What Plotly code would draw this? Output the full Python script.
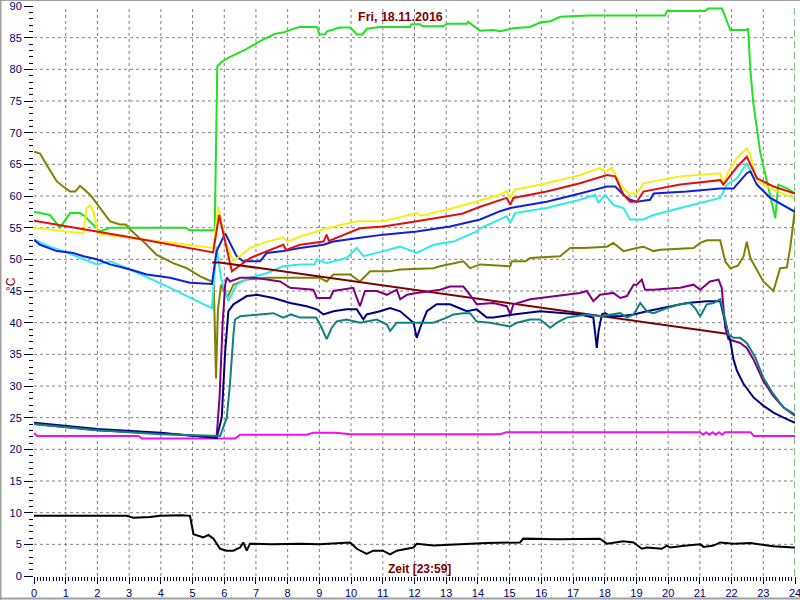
import plotly.graph_objects as go

# ---------------- data (hours, °C) ----------------
green_t = [0, 0.5, 0.82, 1.14, 1.45, 1.6, 2.08, 2.4, 4.8, 4.9, 5.7, 5.78, 5.93, 6.12, 6.66, 6.97, 7.19, 7.6, 7.92, 8.23, 8.39,
           8.93, 9.0, 9.18, 9.24, 9.65, 9.97, 10.19, 10.35, 10.5, 10.91, 11.86, 11.9, 12.18, 12.25, 12.9, 13.03, 13.66, 13.69,
           14.07, 14.48, 14.7, 15.11, 15.65, 15.96, 16.28, 16.6, 17.5, 18.5, 19.43, 19.9, 19.97, 21.17, 21.26, 21.7, 21.96,
           22.49, 22.52, 22.59, 22.68, 22.81, 22.9, 23.38, 23.47, 23.75, 24.0]
green_v = [57.5, 57, 55, 57.3, 57.3, 56.8, 54.4, 55, 55, 54.6, 54.6, 80.5, 81.2, 81.8, 83.1, 84, 84.6, 85.6, 85.9, 86.5, 86.7,
           86.7, 85.5, 85.5, 86.0, 86.6, 86.6, 85.5, 85.5, 86.4, 86.7, 86.7, 87.1, 87.1, 86.8, 86.8, 87.2, 87.2, 87.5,
           86.1, 86.2, 86.0, 86.5, 86.7, 87.4, 87.6, 88.3, 88.5, 88.5, 88.5, 88.5, 89.2, 89.2, 89.6, 89.6, 86.2,
           86.2, 86.5, 80.1, 74.9, 70.2, 67, 56.5, 61.8, 61.2, 60.4]

yellow_t = [0, 0.92, 1.56, 1.66, 1.77, 1.87, 1.98, 2.08, 3.03, 4.6, 5.65, 5.81, 6.03, 6.29, 6.81, 7.34, 7.86, 8.01, 8.39,
            9.13, 9.23, 10.18, 11.02, 12.07, 12.2, 13.23, 13.96, 14.7, 14.91, 15.02, 15.17, 16.17, 17.22, 17.85, 18.01,
            18.22, 18.49, 18.75, 19.01, 19.22, 20.38, 21.64, 21.74, 21.9, 22.17, 22.48, 22.59, 22.8, 23.22, 23.95, 24]
yellow_v = [55, 54.4, 54.1, 58.1, 58.5, 57.6, 54.9, 54, 53.4, 52.4, 51.8, 58.3, 52.8, 49.7, 51.8, 52.8, 53.4, 52.8, 53.6,
            54.7, 54.9, 56, 56, 57.3, 56.9, 58.1, 59.1, 60.2, 60.8, 59.7, 61, 62, 63.3, 64.4, 63.9,
            64.4, 61.8, 60.4, 60.4, 62, 63.1, 63.6, 61.8, 63.9, 66, 67.5, 66.5, 62.3, 61.2, 59.7, 59.6]

red_t = [0, 2.9, 5.65, 5.84, 6.24, 6.81, 7.86, 7.95, 8.39, 9.13, 9.23, 9.3, 10.28, 11.02, 12.07, 13.12, 13.5, 14.07,
         14.91, 15.02, 15.12, 16.17, 17.22, 18.07, 18.33, 18.59, 18.8, 19.01, 19.22, 20.38, 21.64, 21.74, 21.9, 22.17,
         22.48, 22.8, 23.32, 23.95, 24]
red_v = [56.1, 53.6, 51.1, 57.0, 48.1, 50.2, 52.3, 51.5, 52.3, 52.8, 53.9, 52.9, 54.9, 55.2, 56, 56.8, 57.2, 58.3,
         59.7, 58.6, 59.7, 60.7, 62, 63.3, 63.1, 60.2, 59.1, 59.1, 60.7, 61.8, 62.5, 61.8, 62.8, 64.6,
         66.2, 62.8, 61.5, 60.4, 60.4]

blue_t = [0, 0.19, 0.72, 1.24, 1.56, 1.98, 2.4, 3.03, 3.56, 4.29, 4.92, 5.61, 5.76, 6.03, 6.39, 6.6, 7.13, 7.34, 7.86,
          8.39, 9.13, 9.44, 10.28, 11.02, 12.07, 13.12, 14.07, 14.7, 15.02, 16.17, 17.22, 18.07, 18.33, 18.59, 18.8,
          19.01, 19.43, 19.54, 20.59, 21.64, 22.06, 22.48, 22.59, 22.8, 23.22, 23.95, 24]
blue_v = [53.1, 52.3, 51.3, 51, 50.5, 50, 49.2, 48.4, 47.6, 47.1, 46.3, 46.1, 51.3, 54.1, 50.5, 49.7, 49.7, 51, 51.3,
          51.8, 52.3, 52.8, 53.4, 53.9, 54.4, 55.2, 56.3, 57.6, 58.1, 59.1, 60.4, 61.5, 61.5, 60.2, 59.4,
          59.1, 59.4, 60.4, 60.7, 61.2, 61.2, 63.6, 63.9, 61.8, 59.7, 57.6, 57.5]

cyan_t = [0, 0.5, 0.92, 1.98, 2.4, 3.03, 4.08, 4.92, 5.61, 5.76, 5.9, 6.13, 6.39, 6.81, 7.34, 7.86, 8.39, 8.85, 8.92,
          9.23, 9.86, 10.18, 10.39, 11.02, 11.55, 12.07, 12.6, 13.23, 13.96, 14.07, 14.91, 15.02, 15.17, 16.17, 17.22,
          17.7, 17.8, 18.01, 18.27, 18.59, 18.8, 19.22, 19.54, 20.38, 21.64, 21.85, 22.17, 22.48, 22.8, 23.22, 23.95, 24]
cyan_v = [53.1, 52, 51.3, 49.2, 49.7, 48.4, 46, 43.9, 42.3, 52, 47, 43.4, 46, 47.1, 47.8, 48.9, 49.2, 49.2, 50,
          49.4, 50.2, 51.8, 50.5, 51.3, 52, 51, 52.3, 52.8, 54.4, 54.9, 56.8, 55.7, 57.3, 58.1, 59.4,
          60.2, 58.9, 60.2, 58.6, 58.1, 56.3, 56.3, 57, 58.1, 59.7, 61.8, 62.8, 65.2, 61.8, 59.7, 57.6, 57.5]

olive_t = [0, 0.19, 0.4, 0.72, 0.92, 1.14, 1.3, 1.45, 1.77, 2.08, 2.4, 2.71, 2.9, 3.03, 3.45, 3.87, 4.39, 4.82, 5.24,
           5.61, 5.67, 5.74, 5.8, 5.9, 6.1, 6.29, 6.71, 7.34, 8.39, 9.0, 9.23, 9.44, 9.97, 10.28, 10.6, 11.2, 11.55,
           12.6, 12.8, 13.54, 13.75, 14.07, 15.02, 15.07, 15.5, 15.65, 16.59, 16.91, 17.33, 18.07, 18.27, 18.59, 19.01,
           19.22, 19.54, 19.75, 20.8, 21.01, 21.22, 21.64, 21.8, 21.96, 22.2, 22.38, 22.48, 22.59, 23.0, 23.32, 23.53,
           23.74, 23.85, 24]
olive_v = [67, 66.7, 64.9, 62.3, 61.5, 60.7, 60.7, 61.6, 60.2, 58.1, 56, 55.5, 55.5, 54.7, 52.8, 50.7, 49.4, 48.6, 47.3,
           46.5, 46, 31.2, 42, 46, 44, 46, 46.8, 47.1, 47.1, 47.1, 46.5, 47.6, 47.6, 46.5, 48.1, 48.1, 48.4,
           48.6, 48.9, 49.7, 48.6, 49.2, 48.9, 49.7, 49.7, 50.2, 50.5, 51.8, 51.8, 52, 52.6, 51.3, 51.8,
           52, 51.3, 51.5, 51.8, 52.6, 53, 53, 49.7, 48.6, 49, 50.5, 52.8, 50.2, 46.5, 45, 48.6,
           48.7, 51.8, 58]

maroon_t = [5.62, 5.85, 21.9]
maroon_v = [49.5, 49.5, 38.2]

purple_t = [0, 2, 4, 5.5, 5.76, 5.85, 5.95, 6.03, 6.08, 6.18, 6.5, 6.92, 7.34, 7.76, 8.08, 8.81, 8.92, 9.34, 9.44, 9.65,
            10.07, 10.18, 10.28, 10.44, 10.81, 11.13, 11.44, 11.55, 11.76, 12.07, 12.81, 13.12, 13.54, 13.75, 13.96,
            14.49, 14.91, 15.02, 15.12, 15.65, 15.96, 16.59, 16.91, 17.22, 17.43, 17.64, 17.85, 18.27, 18.49, 18.7,
            18.91, 19.01, 19.17, 19.27, 19.54, 20.38, 20.8, 21.01, 21.32, 21.59, 21.69, 21.8, 21.9, 22.27, 22.48,
            22.69, 23.0, 23.32, 23.64, 24]
purple_v = [24, 23, 22.5, 22, 22.1, 28, 40, 46, 47.1, 46.5, 47.1, 47.1, 46.8, 46.5, 45.5, 45.2, 43.9, 43.9, 45, 45.2,
            45.5, 43.9, 42.6, 45, 45, 44.4, 45.2, 43.7, 44.4, 44.7, 45.2, 45.7, 45.7, 44.4, 42.9,
            43.1, 42.6, 41.3, 42.9, 43.7, 43.9, 44.2, 44.4, 44.7, 45, 43.4, 44.4, 44.7, 43.9, 44.2,
            46, 46, 46.8, 45.2, 45.2, 45.5, 46, 45.2, 46.5, 46.8, 45.5, 39.2, 37.4, 36.8, 36,
            34.2, 30.8, 28.4, 26.6, 25.3]

navy_t = [0, 2, 4, 5.5, 5.76, 5.92, 6.03, 6.13, 6.29, 6.71, 7.03, 7.55, 8.08, 8.6, 8.92, 9.13, 9.44, 9.86, 10.18, 10.39,
          10.49, 10.91, 11.23, 11.55, 11.97, 12.07, 12.18, 12.39, 12.7, 13.12, 13.44, 13.65, 13.96, 14.28, 14.49, 14.7,
          15.12, 15.96, 16.59, 17.22, 17.64, 17.7, 17.75, 17.8, 17.91, 18.01, 18.17, 18.49, 18.91, 19.33, 19.64, 20.06,
          20.59, 21.22, 21.64, 21.74, 21.85, 21.96, 22.06, 22.17, 22.38, 22.69, 23.0, 23.32, 23.64, 24]
navy_v = [24.2, 23.2, 22.6, 22, 21.8, 25, 35.5, 41.8, 42.9, 44.2, 44.4, 43.9, 43.1, 42.6, 42.1, 41.3, 41.8, 42.1, 42.1, 40.5,
          41.3, 41.8, 42.3, 41.8, 40, 37.6, 39.2, 41.8, 42.9, 42.9, 42.3, 41.8, 42.1, 40.8, 40.8, 41,
          41.3, 41.8, 41.5, 41.3, 40.8, 38.1, 36, 38.5, 41.3, 41.5, 41, 41, 41.3, 41.8, 42.1, 42.6,
          43.1, 43.4, 43.4, 41.3, 39.2, 37.1, 34.2, 32.4, 30.3, 28.2, 26.9, 25.8, 25, 24.2]

teal_t = [0, 2, 4, 5.5, 5.87, 6.08, 6.18, 6.29, 6.34, 6.5, 7.13, 7.55, 7.86, 8.1, 8.39, 8.9, 9.07, 9.23, 9.39, 9.55, 9.86,
          10.07, 10.28, 10.81, 11.13, 11.23, 11.44, 11.97, 12.6, 13.02, 13.23, 13.54, 13.75, 13.96, 14.38, 15.02, 15.23,
          15.65, 15.96, 16.28, 16.49, 16.8, 17.12, 17.43, 17.85, 18.27, 18.49, 18.7, 18.91, 19.12, 19.33, 19.54, 19.96,
          20.38, 20.69, 20.85, 21.01, 21.22, 21.43, 21.64, 21.74, 21.9, 22.06, 22.27, 22.48, 22.75, 23.0, 23.32, 23.64, 24]
teal_v = [24, 23, 22.4, 22.1, 22.1, 25, 30.3, 38.1, 40.5, 41, 41.3, 41.5, 40.8, 41.3, 40.8, 40.8, 39.2, 37.4, 39.2, 40.2, 40.5,
          40.2, 40, 40.5, 39.7, 38.7, 40, 40, 40, 40.8, 41.3, 41.5, 41.5, 40.2, 40, 39.4, 40,
          40.5, 40.5, 39.2, 40, 40.8, 41, 41.3, 41, 41.3, 41.5, 40.8, 41.3, 43.1, 41.8, 41.5, 42.3,
          42.9, 43.1, 42.3, 41, 42.9, 43.1, 43.7, 41.8, 38.1, 37.6, 37.6, 36.8, 34.5, 31.3, 28.7, 26.6, 25.5]

magenta_t = [0, 0.1, 3.3, 3.4, 6.35, 6.5, 8.6, 8.8, 9.5, 10, 14.7, 14.9, 21.0, 21.1, 21.2, 21.3, 21.4, 21.5, 21.6, 21.7,
             21.8, 22.6, 22.7, 24]
magenta_v = [22.6, 22.1, 22.1, 21.7, 21.7, 22.3, 22.3, 22.6, 22.6, 22.4, 22.4, 22.7, 22.7, 22.3, 22.7, 22.3, 22.7, 22.3,
             22.7, 22.3, 22.7, 22.7, 22.1, 22.1]

black_t = [0, 1.45, 2.08, 2.92, 3.13, 3.66, 3.97, 4.66, 4.92, 5.03, 5.34, 5.5, 5.66, 5.87, 6.08, 6.29, 6.5, 6.6, 6.71,
           6.81, 7.5, 8.39, 9.0, 9.97, 10.18, 10.49, 10.7, 11.0, 11.23, 11.44, 11.97, 12.07, 12.6, 13.65, 14.28, 15.33,
           15.43, 16.5, 17.85, 18.07, 18.59, 18.91, 19.17, 19.33, 19.8, 19.96, 20.06, 20.59, 21.01, 21.12, 21.43, 21.64,
           22.06, 22.59, 22.9, 23.32, 23.95, 24]
black_v = [9.5, 9.5, 9.6, 9.5, 9.2, 9.3, 9.5, 9.6, 9.5, 6.6, 6.1, 6.5, 5.9, 4.3, 4.0, 4.0, 4.5, 5.3, 4.0,
           5.1, 5.0, 5.1, 5.0, 5.3, 4.3, 3.5, 4.0, 4.0, 3.4, 4.0, 4.5, 5.1, 4.8, 5.1, 5.2, 5.3,
           5.9, 5.8, 5.9, 5.1, 5.5, 5.3, 4.3, 4.5, 4.3, 4.8, 4.5, 4.8, 5.0, 4.6, 4.8, 5.3,
           5.1, 5.2, 5.0, 4.7, 4.5, 4.5]

title_text = "Fri, 18.11.2016"
xlabel_text = "Zeit [23:59]"
ylabel_text = "°C"
x_ticks = list(range(0, 25))
y_ticks = list(range(0, 91, 5))

# ---------------- figure ----------------
series = [
    (black_t, black_v, "#000000"),
    (magenta_t, magenta_v, "#ee10ee"),
    (olive_t, olive_v, "#808000"),
    (green_t, green_v, "#22e022"),
    (cyan_t, cyan_v, "#30eaea"),
    (blue_t, blue_v, "#1020d8"),
    (yellow_t, yellow_v, "#f4f010"),
    (red_t, red_v, "#e01010"),
    (maroon_t, maroon_v, "#800000"),
    (purple_t, purple_v, "#800080"),
    (navy_t, navy_v, "#000080"),
    (teal_t, teal_v, "#108080"),
]

fig = go.Figure()
for t, v, c in series:
    fig.add_trace(go.Scatter(x=t, y=v, mode="lines", line=dict(color=c, width=2),
                             showlegend=False, hoverinfo="skip"))

W, H = 800, 600
ml, mr, mt, mb = 34, 5, 6, 24
pw, ph = W - ml - mr, H - mt - mb


def px(xp):
    return (xp - ml) / pw


def py(yp):
    return (H - mb - yp) / ph


tick_font = dict(family="Liberation Sans, Arial, sans-serif", size=11, color="#000070")
common = dict(showgrid=False, zeroline=False, automargin=False, showline=False, ticklabeloverflow="allow",
              ticklabelstandoff=0, tickwidth=1, tickcolor="#000040", tickfont=tick_font, ticks="outside")

fig.update_xaxes(range=[0, 24], tickvals=x_ticks, ticklen=7, **common,
                 minor=dict(dtick=0.1, ticks="outside", ticklen=4, tickcolor="#000040", showgrid=False))
fig.update_yaxes(range=[0, 90], tickvals=y_ticks, ticklen=9, **common,
                 minor=dict(dtick=1, ticks="outside", ticklen=4, tickcolor="#000040", showgrid=False))

# dashed grid (interior lines only, as in the original)
grid_line = dict(color="#808080", width=1, dash="3px,3px")
for xv in x_ticks[1:-1]:
    fig.add_shape(type="line", xref="x", yref="paper", x0=xv, x1=xv, y0=0, y1=1, line=grid_line, layer="below")
for yv in y_ticks[1:-1]:
    fig.add_shape(type="line", xref="paper", yref="y", x0=0, x1=1, y0=yv, y1=yv, line=grid_line, layer="below")

fig.add_shape(type="line", xref="x", yref="paper", x0=24, x1=24, y0=0, y1=1,
              line=dict(color="#008000", width=1, dash="7px,4px"))

# window frame
frame = "#a0a0a0"
fig.add_shape(type="line", xref="paper", yref="paper", x0=px(0.5), x1=px(0.5), y0=py(0), y1=py(600),
              line=dict(color=frame, width=2))
fig.add_shape(type="line", xref="paper", yref="paper", x0=px(0), x1=px(800), y0=py(0.5), y1=py(0.5),
              line=dict(color=frame, width=1))
fig.add_shape(type="line", xref="paper", yref="paper", x0=px(0), x1=px(800), y0=py(598.5), y1=py(598.5),
              line=dict(color=frame, width=2))

fig.add_annotation(text="<b>" + title_text + "</b>", xref="paper", yref="paper", x=px(400), y=py(17.5),
                   showarrow=False, xanchor="center", yanchor="middle",
                   font=dict(family="Liberation Sans, Arial, sans-serif", size=12.5, color="#800000"))
fig.add_annotation(text="<b>" + xlabel_text + "</b>", xref="paper", yref="paper", x=px(419), y=py(569),
                   showarrow=False, xanchor="center", yanchor="middle",
                   font=dict(family="Liberation Sans, Arial, sans-serif", size=12, color="#800000"))
fig.add_annotation(text=ylabel_text, xref="paper", yref="paper", x=px(11), y=py(284), textangle=-90,
                   showarrow=False, xanchor="center", yanchor="middle",
                   font=dict(family="Liberation Sans, Arial, sans-serif", size=12, color="#800000"))

fig.update_layout(width=W, height=H, autosize=False,
                  margin=dict(l=ml, r=mr, t=mt, b=mb, pad=0),
                  paper_bgcolor="white", plot_bgcolor="white", showlegend=False)

fig.write_html("out.html", config={"displayModeBar": False},
               post_script="document.body.style.margin='0';document.body.style.overflow='hidden';")
